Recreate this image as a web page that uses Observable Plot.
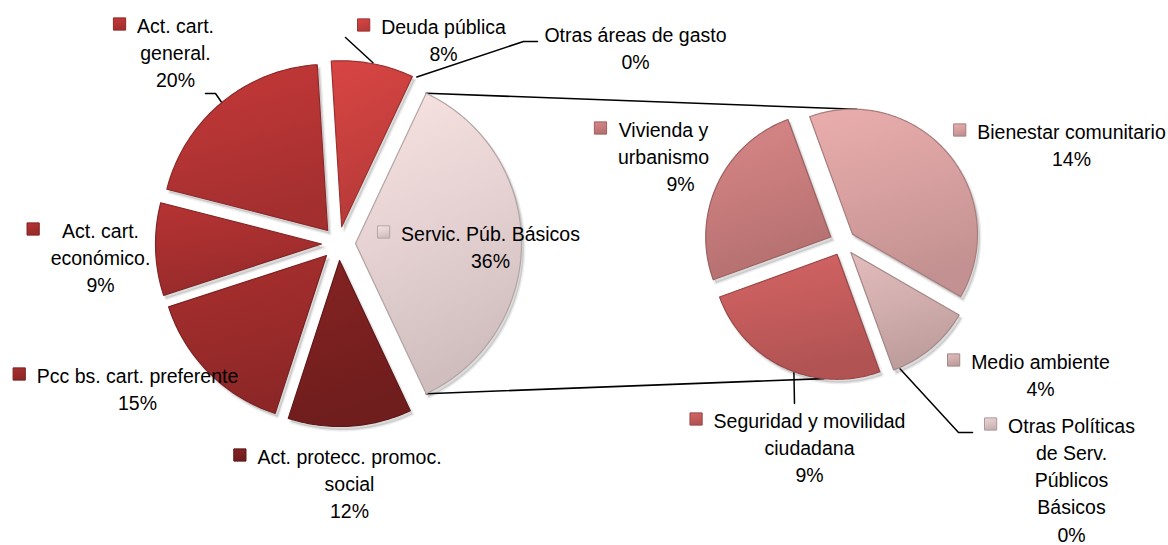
<!DOCTYPE html>
<html><head><meta charset="utf-8">
<script src="https://cdn.jsdelivr.net/npm/d3@7"></script>
<script src="https://cdn.jsdelivr.net/npm/@observablehq/plot@0.6"></script>
<style>
html,body{margin:0;padding:0;background:#fff;}
#chart svg{display:block;}
</style>
</head><body><div id="chart"></div>
<script>
// ---------- DATA ----------
const mainNames = ["Deuda pública","Otras áreas de gasto","Servic. Púb. Básicos","Act. protecc. promoc. social","Pcc bs. cart. preferente","Act. cart. económico.","Act. cart. general."];
const mainValues = [8, 0, 36, 12, 15, 9, 20];
const splitName = "Servic. Púb. Básicos";
const subNames = ["Bienestar comunitario","Medio ambiente","Otras Políticas de Serv. Públicos Básicos","Seguridad y movilidad ciudadana","Vivienda y urbanismo"];
const subValues = [14, 4, 0, 9, 9];

// ---------- STYLE / LAYOUT ----------
const W = 1168, H = 545;
const FONT = "'Liberation Sans', Arial, sans-serif";
const FS = 19.5, LH = 27.3;
const sliceColor = {
  "Deuda pública": "#c8403e",
  "Otras áreas de gasto": "#d05050",
  "Servic. Púb. Básicos": "#e6d2d2",
  "Act. protecc. promoc. social": "#7b2020",
  "Pcc bs. cart. preferente": "#9c2b2b",
  "Act. cart. económico.": "#a82f2f",
  "Act. cart. general.": "#b53434",
  "Bienestar comunitario": "#d8a0a0",
  "Medio ambiente": "#d2aeae",
  "Otras Políticas de Serv. Públicos Básicos": "#dcc4c4",
  "Seguridad y movilidad ciudadana": "#c45c5c",
  "Vivienda y urbanismo": "#c87c7c"
};
const mainPie = {cx: 338, cy: 243, r: 166, explode: 17};
const subPie = {cx: 842, cy: 242, r: 125, explode: 13, start: -20};
const labelLayout = {
  "Act. cart. general.": {x:175, y:32, lines:["Act. cart.","general."], leader:[[215,93],[205,93]]},
  "Deuda pública": {x:443, y:33, lines:["Deuda pública"], leader:[[345,37]]},
  "Otras áreas de gasto": {x:635, y:41, lines:["Otras áreas de gasto"], leader:[[523,41],[537,41]], marker:false},
  "Servic. Púb. Básicos": {x:490, y:240, lines:["Servic. Púb. Básicos"]},
  "Act. protecc. promoc. social": {x:349, y:463, lines:["Act. protecc. promoc.","social"]},
  "Pcc bs. cart. preferente": {x:137, y:382, lines:["Pcc bs. cart. preferente"]},
  "Act. cart. económico.": {x:100, y:237, lines:["Act. cart.","económico."]},
  "Bienestar comunitario": {x:1071, y:138, lines:["Bienestar comunitario"]},
  "Medio ambiente": {x:1040, y:368, lines:["Medio ambiente"]},
  "Otras Políticas de Serv. Públicos Básicos": {x:1071, y:432, lines:["Otras Políticas","de Serv.","Públicos","Básicos"], at:155, leader:[[958,432],[972,432]]},
  "Seguridad y movilidad ciudadana": {x:809, y:427, lines:["Seguridad y movilidad","ciudadana"], at:200, leader:[[794,403]]},
  "Vivienda y urbanismo": {x:663, y:136, lines:["Vivienda y","urbanismo"], pctDx:17}
};

// ---------- GEOMETRY ----------
const rad = a => a * Math.PI / 180;
function slices(names, values, start, pie) {
  const total = d3.sum(values);
  let a = start;
  return names.map((name, i) => {
    const span = values[i] / total * 360;
    const a0 = a, a1 = a + span, mid = (a0 + a1) / 2;
    a = a1;
    return {name, value: values[i], a0, a1, mid,
      tx: pie.cx + pie.explode * Math.sin(rad(mid)),
      ty: pie.cy - pie.explode * Math.cos(rad(mid)), r: pie.r};
  });
}
const arcPt = (s, ang, rr = s.r) => [s.tx + rr * Math.sin(rad(ang)), s.ty - rr * Math.cos(rad(ang))];
function polygon(s) {
  const pts = [{name: s.name, x: s.tx, y: s.ty}];
  const n = Math.max(2, Math.ceil(s.a1 - s.a0));
  for (let k = 0; k <= n; k++) {
    const [x, y] = arcPt(s, s.a0 + (s.a1 - s.a0) * k / n);
    pts.push({name: s.name, x, y});
  }
  return pts;
}
const splitIdx = mainNames.indexOf(splitName);
const mainTotal = d3.sum(mainValues);
const mainStart = 90 - 360 * (d3.sum(mainValues.slice(0, splitIdx)) + mainValues[splitIdx] / 2) / mainTotal;
const mainSlices = slices(mainNames, mainValues, mainStart, mainPie);
const subSlices = slices(subNames, subValues, subPie.start, subPie);
const allSlices = mainSlices.concat(subSlices);
const polys = allSlices.filter(s => s.value > 0).flatMap(polygon);

// connector lines between pies
const findSlice = (ss, ang) => ss.find(s => s.value > 0 && ((ang - s.a0) % 360 + 360) % 360 <= (s.a1 - s.a0));
const split = mainSlices[splitIdx];
const topSub = findSlice(subSlices, 2), botSub = findSlice(subSlices, 186);
const connectors = [
  {k: "top", p: arcPt(split, split.a0)}, {k: "top", p: arcPt(topSub, 2)},
  {k: "bot", p: arcPt(split, split.a1)}, {k: "bot", p: arcPt(botSub, 186)}
].map(d => ({k: d.k, x: d.p[0], y: d.p[1]}));

// leader lines
const leaders = [];
allSlices.forEach(s => {
  const L = labelLayout[s.name];
  if (!L || !L.leader) return;
  const [x0, y0] = arcPt(s, L.at ?? s.mid, s.r + 1);
  leaders.push({k: s.name, x: x0, y: y0});
  L.leader.forEach(([x, y]) => leaders.push({k: s.name, x, y}));
});

// text lines and markers
const ctx = document.createElement("canvas").getContext("2d");
ctx.font = `${FS}px ${FONT}`;
const textRows = [], markers = [];
allSlices.forEach(s => {
  const L = labelLayout[s.name];
  if (!L) return;
  const lines = L.lines.concat([`${s.value}%`]);
  lines.forEach((t, i) => textRows.push({
    text: t, x: L.x + (i === lines.length - 1 ? (L.pctDx || 0) : 0), y: L.y + i * LH
  }));
  if (L.marker !== false) {
    const wmax = d3.max(L.lines, t => ctx.measureText(t).width);
    markers.push({name: s.name, x: L.x - wmax / 2 - 17.5, y: L.y - 8.5});
  }
});

const colorNames = Object.keys(sliceColor);
const gid = name => `grad${colorNames.indexOf(name)}`;
const dark = name => d3.color(sliceColor[name]).darker(0.7).formatHex();

const chart = Plot.plot({
  width: W, height: H, margin: 0,
  x: {domain: [0, W], range: [0, W], axis: null},
  y: {domain: [0, H], range: [0, H], axis: null},
  color: {type: "identity"},
  style: {background: "#fff"},
  marks: [
    Plot.line(connectors, {x: "x", y: "y", z: "k", stroke: "#000", strokeWidth: 1.6}),
    // soft shadow
    Plot.line(polys, {x: "x", y: "y", z: "name", fill: "#000", fillOpacity: 0.14, stroke: "#000",
      strokeOpacity: 0.07, strokeWidth: 3, curve: "linear-closed", dx: 2.5, dy: 3.5}),
    // slices
    Plot.line(polys, {x: "x", y: "y", z: "name", fill: d => `url(#${gid(d.name)})`,
      stroke: d => dark(d.name), strokeWidth: 1.2, curve: "linear-closed"}),
    Plot.line(leaders, {x: "x", y: "y", z: "k", stroke: "#000", strokeWidth: 1.5}),
    Plot.dot(markers, {x: "x", y: "y", symbol: "square", r: 6.9, fill: d => `url(#${gid(d.name)})`,
      stroke: d => dark(d.name), strokeWidth: 1}),
    Plot.text(textRows, {x: "x", y: "y", text: "text", textAnchor: "middle", lineAnchor: "bottom",
      fontSize: FS, fontFamily: FONT, fill: "#000"})
  ]
});

// gradients for a soft 3-D look
const svg = d3.select(chart);
const defs = svg.insert("defs", ":first-child");
colorNames.forEach(name => {
  const c = d3.color(sliceColor[name]);
  const g = defs.append("linearGradient").attr("id", gid(name))
    .attr("x1", 0).attr("y1", 0).attr("x2", 0.25).attr("y2", 1);
  g.append("stop").attr("offset", "0%").attr("stop-color", c.brighter(0.22).formatHex());
  g.append("stop").attr("offset", "50%").attr("stop-color", c.formatHex());
  g.append("stop").attr("offset", "100%").attr("stop-color", c.darker(0.28).formatHex());
});
document.getElementById("chart").appendChild(chart);
</script>
</body></html>
